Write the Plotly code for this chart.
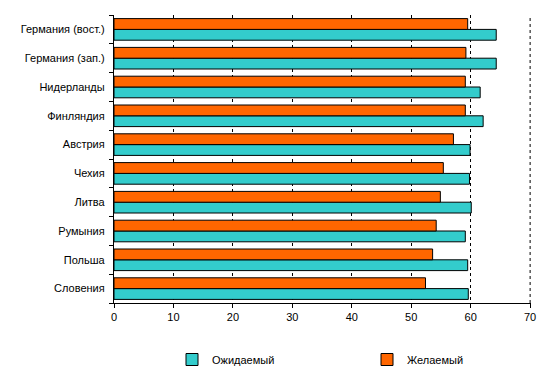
import plotly.graph_objects as go

countries = ["Германия (вост.)", "Германия (зап.)", "Нидерланды", "Финляндия", "Австрия",
             "Чехия", "Литва", "Румыния", "Польша", "Словения"]
expected = [64.3, 64.3, 61.6, 62.1, 59.9, 59.8, 60.1, 59.1, 59.5, 59.6]
desired = [59.5, 59.2, 59.1, 59.1, 57.1, 55.4, 54.9, 54.2, 53.6, 52.4]
x_ticks = [0, 10, 20, 30, 40, 50, 60, 70]

cats = countries[::-1]
fig = go.Figure()
fig.add_trace(go.Bar(y=cats, x=expected[::-1], orientation="h", name="Ожидаемый",
                     marker=dict(color="#33CCCC", line=dict(color="black", width=1))))
fig.add_trace(go.Bar(y=cats, x=desired[::-1], orientation="h", name="Желаемый",
                     marker=dict(color="#FF6600", line=dict(color="black", width=1))))

fig.add_shape(type="line", xref="x", yref="paper", x0=x_ticks[-1], x1=x_ticks[-1],
              y0=0, y1=1, line=dict(color="black", width=1, dash="3px,3px"), layer="below")

fig.update_layout(
    width=553, height=372,
    margin=dict(l=114, r=22, t=15, b=69, autoexpand=False),
    paper_bgcolor="white", plot_bgcolor="white",
    barmode="group", bargap=0.25, bargroupgap=0,
    font=dict(family="Liberation Sans, Arial, sans-serif", size=11, color="black"),
    xaxis=dict(range=[0, 70.15], tickvals=x_ticks, showgrid=True, gridcolor="black",
               griddash="3px,3px", gridwidth=1, showline=True, linecolor="black", linewidth=1,
               ticks="outside", ticklen=4, tickcolor="black", zeroline=False,
               layer="below traces"),
    yaxis=dict(categoryorder="array", categoryarray=cats, showline=True, linecolor="black",
               linewidth=1, ticks="outside", ticklen=4, tickcolor="black",
               tickson="boundaries", showgrid=False, ticksuffix="  "),
    legend=dict(orientation="h", xref="container", yref="container",
                x=172 / 553, xanchor="left", y=1 - 345 / 372, yanchor="top",
                entrywidth=150, entrywidthmode="pixels", traceorder="normal",
                font=dict(size=11)),
)
fig.write_html("out.html")
